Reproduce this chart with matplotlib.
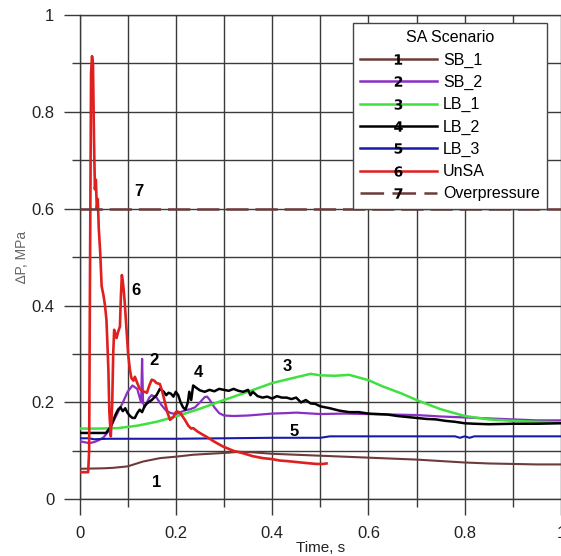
import matplotlib
matplotlib.use("Agg")
import matplotlib.pyplot as plt
from matplotlib.lines import Line2D
from matplotlib.ticker import MultipleLocator

plt.rcParams['font.family'] = ['Liberation Sans', 'DejaVu Sans']
plt.rcParams['lines.scale_dashes'] = False

# ---------------- data ----------------
sb1_t = [0, 0.05, 0.07, 0.1, 0.132, 0.167, 0.2, 0.236, 0.27, 0.305, 0.33, 0.36, 0.4, 0.45,
         0.5, 0.55, 0.6, 0.65, 0.7, 0.75, 0.8, 0.85, 0.9, 0.95, 1.0]
sb1_y = [0.063, 0.064, 0.065, 0.068, 0.078, 0.085, 0.088, 0.092, 0.094, 0.096, 0.098, 0.097,
         0.094, 0.092, 0.090, 0.088, 0.086, 0.084, 0.082, 0.079, 0.076, 0.074, 0.073, 0.072, 0.072]

sb2_t = [0, 0.01, 0.02, 0.03, 0.04, 0.05, 0.06, 0.07, 0.08, 0.09, 0.1, 0.11, 0.12, 0.125,
         0.128, 0.13, 0.132, 0.135, 0.14, 0.145, 0.15, 0.16, 0.17, 0.18, 0.19, 0.2, 0.21,
         0.22, 0.23, 0.24, 0.25, 0.26, 0.265, 0.27, 0.28, 0.29, 0.3, 0.32, 0.35, 0.4, 0.43,
         0.45, 0.5, 0.55, 0.6, 0.65, 0.7, 0.75, 0.8, 0.85, 0.9, 0.95, 1.0]
sb2_y = [0.12, 0.118, 0.116, 0.118, 0.122, 0.128, 0.14, 0.16, 0.18, 0.2, 0.222, 0.235, 0.228,
         0.21, 0.2, 0.29, 0.2, 0.19, 0.2, 0.21, 0.215, 0.21, 0.195, 0.183, 0.178, 0.176, 0.18,
         0.184, 0.186, 0.19, 0.2, 0.211, 0.212, 0.206, 0.19, 0.178, 0.173, 0.172, 0.173, 0.177,
         0.178, 0.179, 0.176, 0.177, 0.176, 0.175, 0.174, 0.171, 0.169, 0.167, 0.165, 0.163, 0.163]

lb1_t = [0, 0.04, 0.08, 0.12, 0.16, 0.2, 0.25, 0.3, 0.35, 0.4, 0.45, 0.48, 0.5, 0.53, 0.56,
         0.6, 0.63, 0.67, 0.7, 0.75, 0.8, 0.85, 0.9, 0.95, 1.0]
lb1_y = [0.146, 0.146, 0.147, 0.152, 0.160, 0.171, 0.187, 0.205, 0.222, 0.240, 0.252, 0.259,
         0.256, 0.255, 0.257, 0.246, 0.233, 0.218, 0.205, 0.186, 0.172, 0.165, 0.162, 0.160, 0.159]

lb2_t = [0, 0.055, 0.065, 0.075, 0.08, 0.085, 0.09, 0.095, 0.1, 0.105, 0.11, 0.115, 0.12,
         0.125, 0.13, 0.135, 0.14, 0.15, 0.16, 0.167, 0.175, 0.18, 0.185, 0.19, 0.195, 0.2,
         0.205, 0.21, 0.215, 0.22, 0.225, 0.228, 0.232, 0.236, 0.24, 0.25, 0.26, 0.27, 0.28,
         0.29, 0.3, 0.31, 0.32, 0.33, 0.34, 0.35, 0.355, 0.36, 0.37, 0.38, 0.39, 0.4, 0.41,
         0.42, 0.43, 0.44, 0.45, 0.46, 0.47, 0.48, 0.49, 0.5, 0.52, 0.54, 0.56, 0.58, 0.6,
         0.62, 0.64, 0.66, 0.68, 0.7, 0.72, 0.74, 0.76, 0.78, 0.8, 0.82, 0.85, 0.9, 0.95, 1.0]
lb2_y = [0.137, 0.137, 0.15, 0.175, 0.185, 0.19, 0.182, 0.188, 0.178, 0.172, 0.168, 0.168,
         0.178, 0.185, 0.18, 0.192, 0.198, 0.205, 0.215, 0.228, 0.222, 0.215, 0.22, 0.218,
         0.212, 0.222, 0.215, 0.2, 0.19, 0.185, 0.2, 0.222, 0.205, 0.235, 0.232, 0.225, 0.222,
         0.226, 0.223, 0.228, 0.226, 0.224, 0.228, 0.224, 0.222, 0.226, 0.215, 0.222, 0.213,
         0.21, 0.212, 0.208, 0.213, 0.21, 0.21, 0.207, 0.21, 0.2, 0.205, 0.198, 0.197, 0.192,
         0.188, 0.183, 0.18, 0.18, 0.177, 0.176, 0.175, 0.172, 0.17, 0.168, 0.166, 0.165,
         0.162, 0.16, 0.157, 0.156, 0.155, 0.156, 0.156, 0.157]

lb3_t = [0, 0.02, 0.03, 0.06, 0.1, 0.2, 0.3, 0.4, 0.5, 0.52, 0.6, 0.7, 0.78, 0.79, 0.8,
         0.81, 0.82, 0.9, 1.0]
lb3_y = [0.126, 0.126, 0.124, 0.125, 0.125, 0.125, 0.126, 0.127, 0.127, 0.130, 0.130, 0.130,
         0.130, 0.127, 0.130, 0.127, 0.130, 0.130, 0.130]

unsa_t = [0, 0.018, 0.02, 0.022, 0.024, 0.026, 0.028, 0.03, 0.032, 0.034, 0.036, 0.038,
          0.04, 0.043, 0.046, 0.05, 0.053, 0.056, 0.058, 0.06, 0.062, 0.065, 0.068, 0.07,
          0.072, 0.075, 0.077, 0.08, 0.084, 0.086, 0.088, 0.09, 0.092, 0.094, 0.097, 0.101,
          0.105, 0.108, 0.112, 0.115, 0.12, 0.125, 0.13, 0.135, 0.14, 0.145, 0.15, 0.155,
          0.16, 0.167, 0.172, 0.178, 0.183, 0.188, 0.195, 0.2, 0.205, 0.21, 0.219, 0.226,
          0.232, 0.236, 0.245, 0.255, 0.264, 0.28, 0.298, 0.32, 0.34, 0.36, 0.381, 0.4,
          0.416, 0.43, 0.45, 0.47, 0.492, 0.505, 0.513]
unsa_y = [0.056, 0.056, 0.1, 0.5, 0.88, 0.915, 0.9, 0.75, 0.64, 0.66, 0.6, 0.62, 0.56, 0.51,
          0.44, 0.42, 0.40, 0.37, 0.32, 0.267, 0.18, 0.13, 0.2, 0.3, 0.35, 0.34, 0.333, 0.345,
          0.357, 0.42, 0.463, 0.45, 0.43, 0.405, 0.36, 0.30, 0.265, 0.25, 0.245, 0.253, 0.24,
          0.228, 0.224, 0.222, 0.22, 0.235, 0.247, 0.245, 0.24, 0.238, 0.222, 0.198, 0.178,
          0.164, 0.17, 0.18, 0.181, 0.177, 0.164, 0.152, 0.146, 0.147, 0.14, 0.134, 0.129,
          0.119, 0.109, 0.1, 0.095, 0.089, 0.085, 0.083, 0.08, 0.079, 0.077, 0.075, 0.073,
          0.073, 0.074]

over_t = [0, 1.0]
over_y = [0.6, 0.6]

labels = ['SB_1', 'SB_2', 'LB_1', 'LB_2', 'LB_3', 'UnSA', 'Overpressure']
colors = ['#6e3b3b', '#8a2fc4', '#3fe03f', '#000000', '#1a1aa8', '#e01f1f', '#6e3b3b']
numbers = ['1', '2', '3', '4', '5', '6', '7']
# label positions for curve numbers (time, pressure)
num_t = [0.160, 0.155, 0.432, 0.246, 0.446, 0.117, 0.123]
num_y = [0.035, 0.287, 0.274, 0.262, 0.140, 0.432, 0.636]

# ---------------- figure ----------------
fig = plt.figure(figsize=(5.61, 5.56), dpi=100)
ax = fig.add_axes([79.5 / 561, (556 - 499.3) / 556, (561 - 79.5) / 561, (499.3 - 15) / 556])

series = [(sb1_t, sb1_y), (sb2_t, sb2_y), (lb1_t, lb1_y), (lb2_t, lb2_y),
          (lb3_t, lb3_y), (unsa_t, unsa_y)]
widths = [1.5, 1.6, 1.8, 1.8, 1.5, 1.9]
for (t, y), c, w in zip(series, colors, widths):
    ax.plot(t, y, color=c, lw=w, zorder=3)
ax.plot(over_t, over_y, color=colors[6], lw=1.8, dashes=(16, 5), zorder=3)

for n, tx, ty in zip(numbers, num_t, num_y):
    ax.text(tx, ty, n, fontsize=12, fontweight='bold', ha='center', va='center', zorder=4)

ax.set_xlim(0, 1.0)
ax.set_ylim(0, 1.0)
ax.xaxis.set_major_locator(MultipleLocator(0.2))
ax.xaxis.set_minor_locator(MultipleLocator(0.1))
ax.yaxis.set_major_locator(MultipleLocator(0.2))
ax.yaxis.set_minor_locator(MultipleLocator(0.1))


def fmt(v):
    if abs(v) < 1e-9:
        return '0'
    if abs(v - 1) < 1e-9:
        return '1'
    return f'{v:.1f}'


ax.set_xticklabels([fmt(v) for v in ax.get_xticks()])
ax.set_yticklabels([fmt(v) for v in ax.get_yticks()])

gc = '#3a3a3a'
ax.grid(True, which='both', color=gc, lw=1.0, zorder=1)
ax.tick_params(which='major', direction='out', length=11.5, width=1.0, color=gc,
               labelsize=12, labelcolor='#222222')
ax.tick_params(which='minor', direction='out', length=5.8, width=1.0, color=gc)
ax.tick_params(axis='x', which='major', pad=7.5)
ax.tick_params(axis='y', which='major', pad=6.5)
ax.set_axisbelow(True)
for s in ['left', 'bottom', 'top']:
    ax.spines[s].set_color(gc)
    ax.spines[s].set_linewidth(1.0)
ax.spines['right'].set_visible(False)

ax.set_xlabel('Time, s', fontsize=11, color='#222222', labelpad=0)
ax.set_ylabel('\u2206P, MPa', fontsize=10, color='#666666', labelpad=2)

handles = []
for i in range(7):
    kw = dict(color=colors[i], lw=1.8, marker=f'$\\mathbf{{{numbers[i]}}}$',
              markersize=7.5, markerfacecolor='k', markeredgecolor='k', markeredgewidth=0)
    if i == 6:
        kw['dashes'] = (17, 6)
    handles.append(Line2D([], [], **kw))

leg = ax.legend(handles, labels, title='SA Scenario', loc='upper right',
                bbox_to_anchor=(0.971, 0.983), borderaxespad=0, fontsize=11.5,
                title_fontsize=11.5, handlelength=4.8, handletextpad=0.4,
                labelspacing=0.45, borderpad=0.45, numpoints=1, fancybox=False,
                framealpha=1, edgecolor='#444444')
leg.get_frame().set_linewidth(1.0)
leg.set_zorder(5)

fig.savefig('out.png', dpi=100)
